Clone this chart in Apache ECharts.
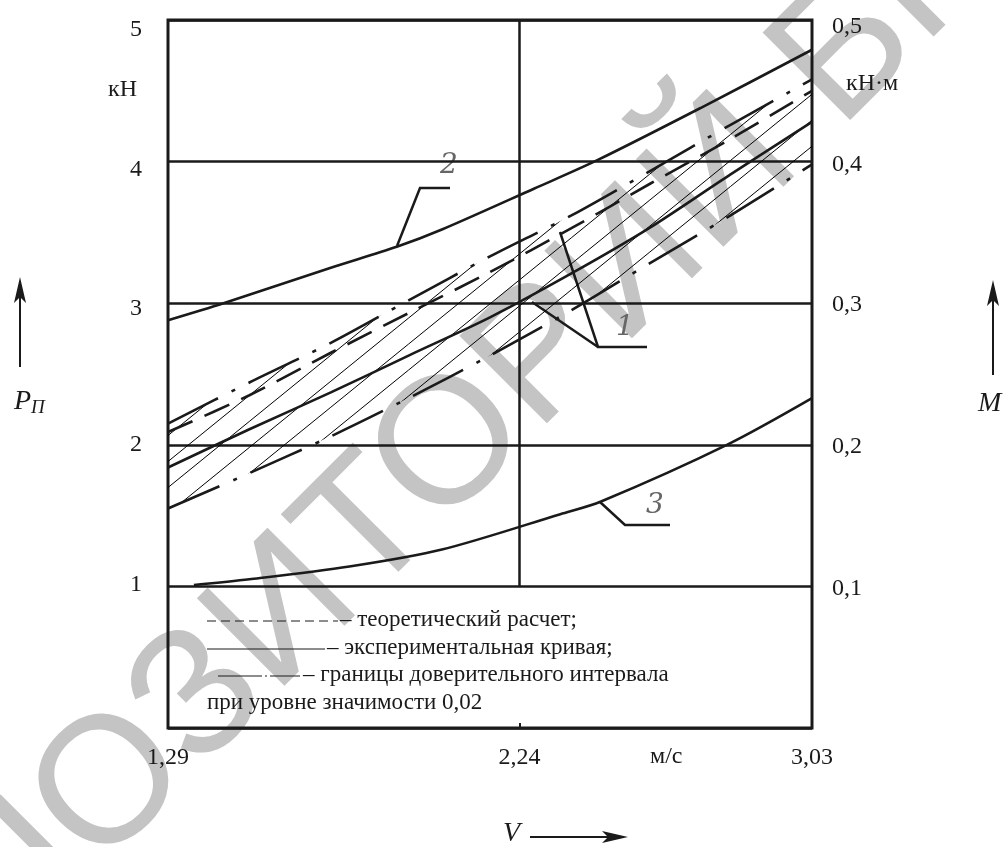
<!DOCTYPE html>
<html><head><meta charset="utf-8">
<script src="https://cdn.jsdelivr.net/npm/echarts@6/dist/echarts.min.js"></script>
<style>html,body{margin:0;padding:0;background:#fff}#c{width:1005px;height:847px}</style>
</head><body><div id="c"></div>
<script>
// ---- data ----
const xTickValues = [1.29, 2.24, 3.03];           // V, m/s
const leftTickValues = [1, 2, 3, 4, 5];            // P, kN
const rightTickValues = [0.1, 0.2, 0.3, 0.4, 0.5]; // M, kN·m

// curve 2
const curve2V = [1.29, 1.44, 1.73, 1.91, 2.03, 2.28, 2.45, 2.73, 3.03];
const curve2P = [2.88, 3.00, 3.25, 3.40, 3.52, 3.81, 4.01, 4.38, 4.79];
// curve 3
const curve3V = [1.36, 1.51, 1.78, 2.03, 2.35, 2.46, 2.80, 3.03];
const curve3P = [1.01, 1.05, 1.14, 1.26, 1.51, 1.60, 2.00, 2.33];
// curve group 1
const band1V = [1.29, 1.51, 1.73, 1.94, 2.16, 2.38, 2.59, 2.81, 3.03];
const upperBound = [2.15, 2.44, 2.72, 3.02, 3.33, 3.62, 3.93, 4.26, 4.58];
const lowerBound = [1.55, 1.80, 2.06, 2.33, 2.63, 2.95, 3.28, 3.62, 3.98];
const experimental = [1.84, 2.11, 2.37, 2.63, 2.90, 3.21, 3.53, 3.91, 4.28];
const theoretical = [2.09, 2.35, 2.65, 2.93, 3.22, 3.53, 3.84, 4.16, 4.50];

const zip = (a, b) => a.map((v, i) => [v, b[i]]);
const comma = v => String(v).replace('.', ',');
const SERIF = '"Liberation Serif", "DejaVu Serif", serif';
const INK = '#1a1a1a';

// small vertical nudges of tick labels, as placed in the reference (px, down positive)
const leftNudge = { 1: -2, 2: 0, 3: 6, 4: 8, 5: 10 };
const rightNudge = { 1: 2, 2: 2, 3: 2, 4: 3, 5: 7 };
function nudgeRich(map) {
  const r = {};
  Object.keys(map).forEach(k => {
    const d = map[k];
    r['n' + k] = { padding: d >= 0 ? [2 * d, 0, 0, 0] : [0, 0, -2 * d, 0] };
  });
  return r;
}

// hatch pattern tile
function hatchTile() {
  const w = 32, h = 26;
  const c = document.createElement('canvas');
  c.width = w; c.height = h;
  const g = c.getContext('2d');
  g.strokeStyle = '#000'; g.lineWidth = 1;
  for (let k = -1; k <= 1; k++) {
    g.beginPath();
    g.moveTo(0, h + k * h);
    g.lineTo(w, k * h);
    g.stroke();
  }
  return c;
}
const hatch = { image: hatchTile(), repeat: 'repeat' };

const chart = echarts.init(document.getElementById('c'), null, { renderer: 'canvas' });

const lineBase = { type: 'line', smooth: 0.3, symbol: 'none', silent: true, animation: false };

// watermark placement: text starts off-canvas lower-left and runs up-right at 45°
const WM_SIZE = 180, WM_ANG = Math.PI / 4;
const wmStart = [458 - Math.cos(WM_ANG) * 5.156 * WM_SIZE, 442 + Math.sin(WM_ANG) * 5.156 * WM_SIZE];

const option = {
  animation: false,
  backgroundColor: '#fff',
  grid: { left: 168, top: 20, right: 193, bottom: 119, show: true, borderColor: INK, borderWidth: 3, backgroundColor: 'transparent' },
  xAxis: {
    type: 'value', min: 1.29, max: 3.03,
    axisLine: { show: false },
    splitLine: { show: false },
    axisTick: { show: true, inside: true, length: 5, customValues: [2.24], lineStyle: { color: INK, width: 2 } },
    axisLabel: { customValues: xTickValues, formatter: v => comma(v), fontFamily: SERIF, fontSize: 24, color: INK, margin: 18 }
  },
  yAxis: [
    {
      type: 'value', min: 0, max: 5, interval: 1, position: 'left',
      axisLine: { show: false }, axisTick: { show: false },
      splitLine: { show: true, lineStyle: { color: INK, width: 2.5 } },
      axisLabel: {
        formatter: v => (leftTickValues.indexOf(v) < 0 ? '' : '{n' + v + '|' + v + '}'),
        rich: nudgeRich(leftNudge),
        fontFamily: SERIF, fontSize: 24, color: INK, margin: 26
      }
    },
    {
      type: 'value', min: 0, max: 0.5, interval: 0.1, position: 'right',
      axisLine: { show: false }, axisTick: { show: false }, splitLine: { show: false },
      axisLabel: {
        formatter: v => {
          const k = Math.round(v * 10);
          if (rightTickValues.indexOf(k / 10) < 0) return '';
          return '{n' + k + '|' + (k / 10).toFixed(1).replace('.', ',') + '}';
        },
        rich: nudgeRich(rightNudge),
        fontFamily: SERIF, fontSize: 24, color: INK, margin: 20
      }
    }
  ],
  series: [
    {
      type: 'custom', name: 'band', silent: true, animation: false, z: 1,
      data: band1V.map((v, i) => [v, upperBound[i], lowerBound[i]]),
      renderItem: function (params, api) {
        const i = params.dataIndex;
        if (i >= band1V.length - 1) return null;
        const pts = [
          api.coord([band1V[i], upperBound[i]]),
          api.coord([band1V[i + 1], upperBound[i + 1]]),
          api.coord([band1V[i + 1], lowerBound[i + 1]]),
          api.coord([band1V[i], lowerBound[i]])
        ];
        return { type: 'polygon', shape: { points: pts }, style: { fill: hatch, stroke: null } };
      },
      encode: { x: 0, y: 1 }
    },
    Object.assign({}, lineBase, {
      name: 'curve2', data: zip(curve2V, curve2P), z: 3,
      lineStyle: { color: INK, width: 2.6 },
      markLine: {
        silent: true, symbol: 'none', animation: false,
        label: { show: false },
        lineStyle: { color: INK, width: 2.5, type: 'solid' },
        data: [[{ coord: [xTickValues[1], 1] }, { coord: [xTickValues[1], 5] }]]
      }
    }),
    Object.assign({}, lineBase, { name: 'curve3', data: zip(curve3V, curve3P), z: 3, lineStyle: { color: INK, width: 2.6 } }),
    Object.assign({}, lineBase, { name: 'upper', data: zip(band1V, upperBound), z: 3, lineStyle: { color: INK, width: 2.6, type: [56, 15, 4, 15] } }),
    Object.assign({}, lineBase, { name: 'lower', data: zip(band1V, lowerBound), z: 3, lineStyle: { color: INK, width: 2.6, type: [56, 15, 4, 15] } }),
    Object.assign({}, lineBase, { name: 'theory', data: zip(band1V, theoretical), z: 3, lineStyle: { color: INK, width: 2.6, type: [27, 13] } }),
    Object.assign({}, lineBase, { name: 'experiment', data: zip(band1V, experimental), z: 3, lineStyle: { color: INK, width: 2.6 } })
  ],
  graphic: [
    // watermark of the source scan
    { type: 'text', x: wmStart[0], y: wmStart[1], rotation: WM_ANG, z: -10, silent: true,
      style: { text: 'РЕПОЗИТОРИЙ БГУИР', font: WM_SIZE + 'px "Liberation Sans", Arial, sans-serif', fill: '#c4c4c4', align: 'left', verticalAlign: 'middle' } },
    // units
    { type: 'text', left: 108, top: 78, style: { text: 'кН', font: '24px ' + SERIF, fill: INK } },
    { type: 'text', left: 846, top: 72, style: { text: 'кН·м', font: '24px ' + SERIF, fill: INK } },
    { type: 'text', left: 650, top: 745, style: { text: 'м/с', font: '24px ' + SERIF, fill: INK } },
    // axis names with arrows
    { type: 'text', left: 14, top: 388, style: { text: '{p|P}{s|П}', rich: { p: { font: 'italic 28px ' + SERIF, fill: INK }, s: { font: 'italic 19px ' + SERIF, fill: INK, padding: [12, 0, 0, 0] } } } },
    { type: 'line', shape: { x1: 20, y1: 367, x2: 20, y2: 285 }, style: { stroke: INK, lineWidth: 2 } },
    { type: 'polygon', shape: { points: [[20, 277], [14, 303], [20, 297], [26, 303]] }, style: { fill: INK } },
    { type: 'text', left: 978, top: 390, style: { text: 'M', font: 'italic 28px ' + SERIF, fill: INK } },
    { type: 'line', shape: { x1: 993, y1: 375, x2: 993, y2: 288 }, style: { stroke: INK, lineWidth: 2 } },
    { type: 'polygon', shape: { points: [[993, 280], [987, 306], [993, 300], [999, 306]] }, style: { fill: INK } },
    { type: 'text', left: 503, top: 820, style: { text: 'V', font: 'italic 28px ' + SERIF, fill: INK } },
    { type: 'line', shape: { x1: 530, y1: 837, x2: 618, y2: 837 }, style: { stroke: INK, lineWidth: 2 } },
    { type: 'polygon', shape: { points: [[628, 837], [602, 831], [608, 837], [602, 843]] }, style: { fill: INK } },
    // legend inside the box
    { type: 'line', shape: { x1: 207, y1: 621, x2: 338, y2: 621 }, style: { stroke: INK, lineWidth: 1, lineDash: [9, 5] } },
    { type: 'text', left: 340, top: 608, style: { text: '– теоретический расчет;', font: '23px ' + SERIF, fill: INK } },
    { type: 'line', shape: { x1: 207, y1: 649, x2: 325, y2: 649 }, style: { stroke: INK, lineWidth: 1 } },
    { type: 'text', left: 327, top: 636, style: { text: '– экспериментальная кривая;', font: '23px ' + SERIF, fill: INK } },
    { type: 'line', shape: { x1: 218, y1: 676, x2: 300, y2: 676 }, style: { stroke: INK, lineWidth: 1, lineDash: [44, 3, 2, 3] } },
    { type: 'text', left: 303, top: 663, style: { text: '– границы доверительного интервала', font: '23px ' + SERIF, fill: INK } },
    { type: 'text', left: 207, top: 691, style: { text: 'при уровне значимости 0,02', font: '23px ' + SERIF, fill: INK } },
    // curve labels and leaders
    { type: 'polyline', shape: { points: [[397, 246], [420, 188], [450, 188]] }, style: { stroke: INK, lineWidth: 2.5, fill: null } },
    { type: 'text', left: 440, top: 152, style: { text: '2', font: 'italic 28px "DejaVu Serif", serif', fill: '#666' } },
    { type: 'polyline', shape: { points: [[560, 232], [598, 347], [647, 347]] }, style: { stroke: INK, lineWidth: 2.5, fill: null } },
    { type: 'line', shape: { x1: 532, y1: 302, x2: 598, y2: 347 }, style: { stroke: INK, lineWidth: 2.5 } },
    { type: 'text', left: 616, top: 314, style: { text: '1', font: 'italic 28px "DejaVu Serif", serif', fill: '#666' } },
    { type: 'polyline', shape: { points: [[600, 502], [625, 525], [670, 525]] }, style: { stroke: INK, lineWidth: 2.5, fill: null } },
    { type: 'text', left: 646, top: 492, style: { text: '3', font: 'italic 28px "DejaVu Serif", serif', fill: '#666' } }
  ]
};
chart.setOption(option);
</script>
</body></html>
